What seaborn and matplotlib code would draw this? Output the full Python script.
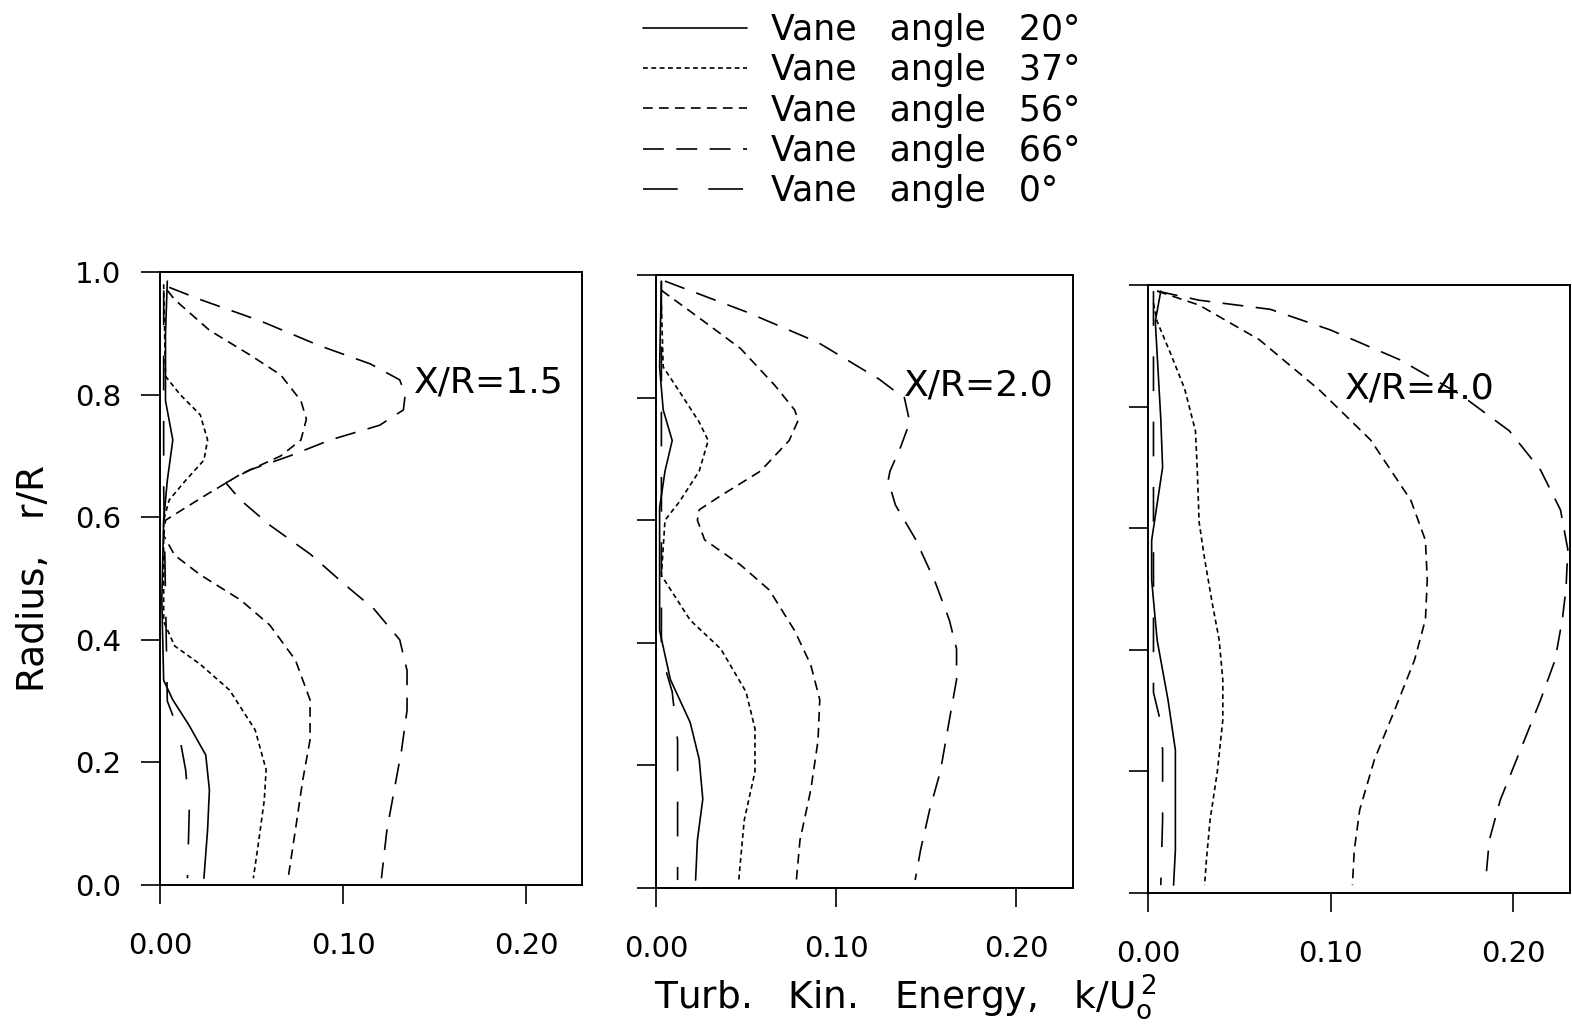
import matplotlib
matplotlib.use('Agg')
import matplotlib.pyplot as plt
from matplotlib.lines import Line2D
import seaborn as sns
import pandas as pd

# ---- data: r/R (y) and k/Uo^2 (x) for each vane angle ----
# X/R = 1.5
p1_a20_r = [0.985, 0.90, 0.79, 0.726, 0.66, 0.595, 0.465, 0.334, 0.302, 0.26, 0.212, 0.155, 0.09, 0.011]
p1_a20_k = [0.004, 0.003, 0.003, 0.007, 0.004, 0.002, 0.001, 0.002, 0.007, 0.016, 0.025, 0.027, 0.026, 0.024]
p1_a37_r = [0.98, 0.83, 0.80, 0.767, 0.726, 0.693, 0.66, 0.628, 0.595, 0.43, 0.39, 0.36, 0.318, 0.253, 0.188, 0.139, 0.073, 0.011]
p1_a37_k = [0.002, 0.003, 0.011, 0.022, 0.026, 0.024, 0.014, 0.005, 0.002, 0.002, 0.008, 0.022, 0.038, 0.052, 0.058, 0.057, 0.054, 0.051]
p1_a56_r = [0.97, 0.955, 0.905, 0.865, 0.832, 0.79, 0.76, 0.726, 0.70, 0.67, 0.636, 0.61, 0.595, 0.57, 0.538, 0.506,
            0.465, 0.424, 0.367, 0.302, 0.237, 0.171, 0.09, 0.011]
p1_a56_k = [0.004, 0.008, 0.027, 0.049, 0.066, 0.077, 0.080, 0.077, 0.066, 0.044, 0.025, 0.011, 0.003, 0.002, 0.008, 0.022,
            0.044, 0.060, 0.074, 0.082, 0.082, 0.078, 0.074, 0.070]
p1_a66_r = [0.975, 0.955, 0.92, 0.88, 0.85, 0.824, 0.80, 0.775, 0.75, 0.726, 0.70, 0.677, 0.656, 0.628, 0.587, 0.54,
            0.49, 0.45, 0.40, 0.35, 0.285, 0.22, 0.155, 0.09, 0.011]
p1_a66_k = [0.005, 0.022, 0.055, 0.087, 0.115, 0.131, 0.134, 0.133, 0.120, 0.093, 0.071, 0.049, 0.036, 0.044, 0.060, 0.082,
            0.101, 0.117, 0.131, 0.135, 0.135, 0.132, 0.128, 0.124, 0.121]
p1_a0_r = [0.97, 0.65, 0.30, 0.253, 0.188, 0.122, 0.011]
p1_a0_k = [0.002, 0.002, 0.004, 0.010, 0.014, 0.016, 0.015]

# X/R = 2.0
p2_a20_r = [0.99, 0.85, 0.78, 0.73, 0.68, 0.62, 0.42, 0.34, 0.27, 0.21, 0.145, 0.078, 0.013]
p2_a20_k = [0.003, 0.002, 0.004, 0.009, 0.005, 0.002, 0.002, 0.008, 0.019, 0.024, 0.026, 0.023, 0.022]
p2_a37_r = [0.95, 0.85, 0.81, 0.76, 0.73, 0.68, 0.63, 0.60, 0.51, 0.437, 0.39, 0.32, 0.26, 0.19, 0.11, 0.046, 0.013]
p2_a37_k = [0.003, 0.004, 0.013, 0.024, 0.029, 0.024, 0.013, 0.005, 0.003, 0.019, 0.036, 0.050, 0.055, 0.055, 0.049, 0.047, 0.046]
p2_a56_r = [0.975, 0.93, 0.88, 0.82, 0.78, 0.763, 0.73, 0.68, 0.64, 0.617, 0.60, 0.568, 0.527, 0.486, 0.42, 0.364,
            0.307, 0.24, 0.16, 0.078, 0.013]
p2_a56_k = [0.003, 0.024, 0.047, 0.066, 0.077, 0.079, 0.074, 0.058, 0.036, 0.024, 0.023, 0.027, 0.047, 0.063, 0.077, 0.086,
            0.091, 0.090, 0.086, 0.080, 0.078]
p2_a66_r = [0.99, 0.94, 0.89, 0.83, 0.81, 0.80, 0.76, 0.72, 0.68, 0.665, 0.625, 0.57, 0.50, 0.437, 0.39, 0.34,
            0.274, 0.19, 0.127, 0.062, 0.013]
p2_a66_k = [0.005, 0.050, 0.090, 0.124, 0.133, 0.138, 0.141, 0.136, 0.130, 0.129, 0.133, 0.144, 0.155, 0.163, 0.167, 0.167,
            0.163, 0.158, 0.152, 0.147, 0.144]
p2_a0_r = [0.99, 0.40, 0.37, 0.32, 0.24, 0.19, 0.08, 0.013]
p2_a0_k = [0.003, 0.003, 0.004, 0.009, 0.012, 0.012, 0.012, 0.012]

# X/R = 4.0
p3_a20_r = [0.99, 0.94, 0.78, 0.70, 0.58, 0.515, 0.416, 0.317, 0.235, 0.153, 0.07, 0.013]
p3_a20_k = [0.007, 0.004, 0.007, 0.008, 0.002, 0.002, 0.005, 0.011, 0.015, 0.015, 0.015, 0.014]
p3_a37_r = [0.97, 0.94, 0.89, 0.83, 0.76, 0.696, 0.61, 0.55, 0.48, 0.416, 0.35, 0.285, 0.20, 0.12, 0.054, 0.013]
p3_a37_k = [0.003, 0.005, 0.012, 0.020, 0.026, 0.027, 0.028, 0.031, 0.035, 0.039, 0.041, 0.041, 0.038, 0.034, 0.032, 0.031]
p3_a56_r = [0.99, 0.967, 0.91, 0.827, 0.745, 0.646, 0.58, 0.515, 0.45, 0.383, 0.30, 0.219, 0.137, 0.07, 0.013]
p3_a56_k = [0.005, 0.028, 0.061, 0.094, 0.122, 0.144, 0.152, 0.153, 0.152, 0.146, 0.135, 0.124, 0.116, 0.113, 0.112]
p3_a66_r = [0.99, 0.975, 0.96, 0.926, 0.877, 0.82, 0.76, 0.696, 0.63, 0.565, 0.50, 0.45, 0.383, 0.317, 0.235,
            0.153, 0.087, 0.021]
p3_a66_k = [0.005, 0.028, 0.067, 0.100, 0.138, 0.171, 0.198, 0.215, 0.226, 0.230, 0.229, 0.227, 0.223, 0.215, 0.204,
            0.193, 0.187, 0.185]
p3_a0_r = [0.99, 0.33, 0.28, 0.235, 0.12, 0.013]
p3_a0_k = [0.003, 0.003, 0.007, 0.008, 0.008, 0.007]

angles = ['20', '37', '56', '66', '0']
stations = ['X/R=1.5', 'X/R=2.0', 'X/R=4.0']
panels = [
    [(p1_a20_k, p1_a20_r), (p1_a37_k, p1_a37_r), (p1_a56_k, p1_a56_r), (p1_a66_k, p1_a66_r), (p1_a0_k, p1_a0_r)],
    [(p2_a20_k, p2_a20_r), (p2_a37_k, p2_a37_r), (p2_a56_k, p2_a56_r), (p2_a66_k, p2_a66_r), (p2_a0_k, p2_a0_r)],
    [(p3_a20_k, p3_a20_r), (p3_a37_k, p3_a37_r), (p3_a56_k, p3_a56_r), (p3_a66_k, p3_a66_r), (p3_a0_k, p3_a0_r)],
]

# line styles (dash lengths in points)
styles = ['-', (0, (3.5, 2.5)), (0, (7, 4.5)), (0, (15, 9)), (0, (25, 22))]

sns.set_style('ticks')
plt.rcParams['font.family'] = ['DejaVu Sans']
plt.rcParams['mathtext.default'] = 'regular'
plt.rcParams['lines.scale_dashes'] = False
plt.rcParams['text.color'] = 'black'
plt.rcParams['xtick.color'] = 'black'
plt.rcParams['ytick.color'] = 'black'
plt.rcParams['axes.labelcolor'] = 'black'

W, H = 1572, 1033
fig = plt.figure(figsize=(W / 100, H / 100), dpi=100)

# axes boxes in pixels: left, bottom, right, top
boxes = [(160, 885, 582, 272), (656, 888, 1073, 275), (1148, 893, 1570, 285)]
xmax = [0.2306, 0.2317, 0.2312]
label_pos = [(0.139, 0.82), (0.138, 0.82), (0.108, 0.83)]

axes = []
for i, (l, b, r, t) in enumerate(boxes):
    ax = fig.add_axes([l / W, 1 - b / H, (r - l) / W, (b - t) / H])
    for j, (k, rr) in enumerate(panels[i]):
        df = pd.DataFrame({'k': k, 'r': rr})
        sns.lineplot(data=df, x='k', y='r', sort=False, estimator=None, color='black',
                     lw=1.2, linestyle=styles[j], ax=ax)
    ax.set_xlim(0, xmax[i])
    ax.set_ylim(0, 1.0)
    ax.set_xticks([0, 0.1, 0.2])
    ax.set_xticklabels(['0.00', '0.10', '0.20'])
    ax.set_yticks([0, 0.2, 0.4, 0.6, 0.8, 1.0])
    if i == 0:
        ax.set_yticklabels(['0.0', '0.2', '0.4', '0.6', '0.8', '1.0'])
    else:
        ax.set_yticklabels([])
    ax.tick_params(direction='out', length=14, width=1.2, labelsize=21, color='black')
    ax.tick_params(axis='x', pad=20)
    ax.tick_params(axis='y', pad=14)
    for s in ax.spines.values():
        s.set_visible(True)
        s.set_linewidth(1.4)
        s.set_color('black')
    ax.set_xlabel('')
    ax.set_ylabel('')
    ax.text(label_pos[i][0], label_pos[i][1], stations[i], fontsize=26, va='center', ha='left')
    axes.append(ax)

fig.text(34 / W, 1 - 578 / H, 'Radius,   r/R', rotation=90, fontsize=27, va='center', ha='center')
fig.text(905 / W, 1 - 997 / H, r'Turb.   Kin.   Energy,   k/U$_{o}^{\,2}$', fontsize=27, va='center', ha='center')

handles = [Line2D([], [], color='black', lw=1.2, linestyle=s) for s in styles]
labels = ['Vane   angle   %s°' % a for a in angles]
fig.legend(handles, labels, loc='upper left', bbox_to_anchor=(643 / W, 1 - 13 / H), frameon=False,
           fontsize=25, handlelength=3.0, handletextpad=0.7, labelspacing=0.18, borderpad=0, borderaxespad=0)

fig.savefig('out.png', dpi=100)
